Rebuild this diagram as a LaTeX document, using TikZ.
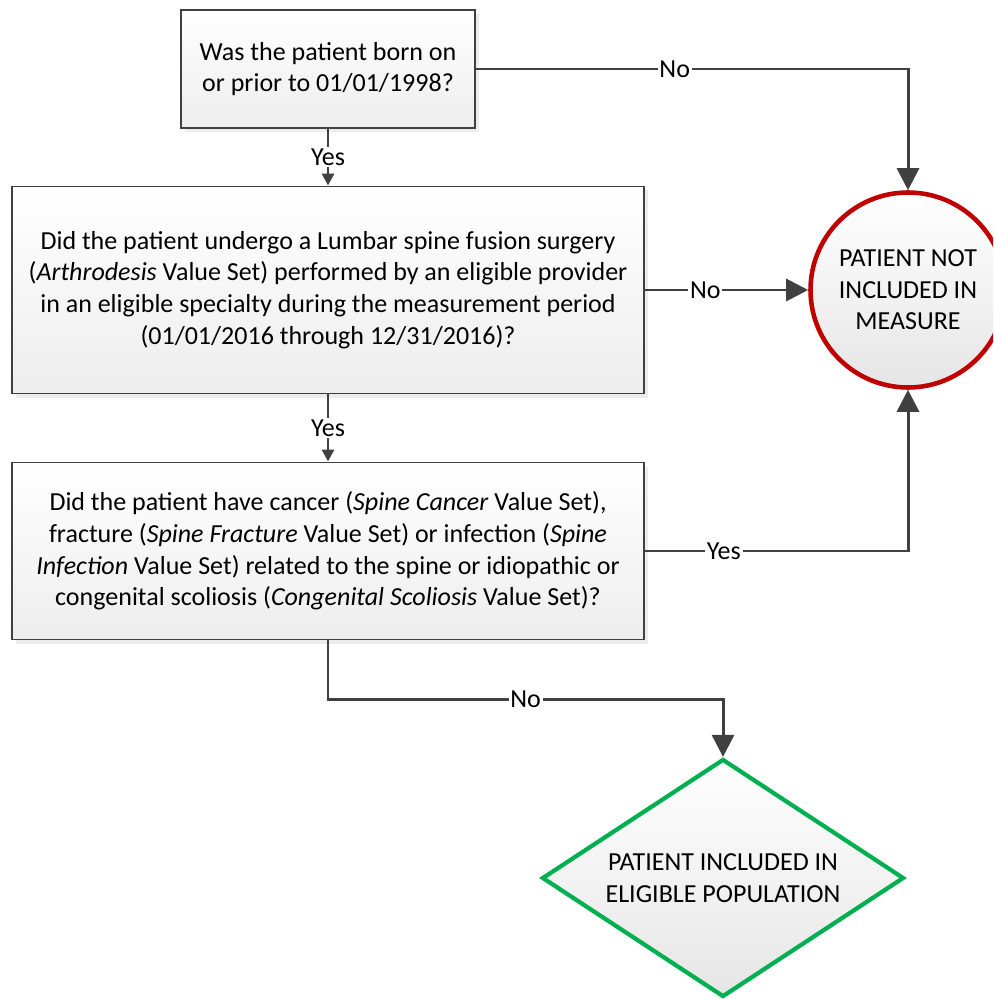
\documentclass[tikz,border=0pt]{standalone}
\usepackage{fontspec}
\setmainfont{Carlito}
\usetikzlibrary{arrows.meta,shapes.geometric,shadows}

\definecolor{linegray}{HTML}{404040}
\definecolor{outred}{HTML}{C00000}
\definecolor{ingreen}{HTML}{00B050}

\begin{document}
\begin{tikzpicture}[x=0.2mm,y=-0.2mm]
    \tikzstyle{every node} = [font=\fontsize{14.8}{18}\selectfont]
    \tikzstyle{question} = [shape=rectangle,draw=linegray,line width=1.1pt,align=center,top color=white,bottom color=black!7,drop shadow={opacity=0.15,shadow xshift=0.8mm,shadow yshift=-0.8mm}]
    \tikzstyle{outcome} = [align=center,inner sep=0pt,top color=white,bottom color=black!10]
    \tikzstyle{answer} = [fill=white,inner sep=1pt]
    \tikzstyle{flow} = [draw=linegray,line width=1.7pt]
    \tikzstyle{down} = [flow,-{Triangle[length=2.4mm,width=2.4mm]}]
    \tikzstyle{across} = [flow,-{Triangle[length=4.4mm,width=4.4mm]}]
    \useasboundingbox (0,0) rectangle (993,999);
    \clip (0,0) rectangle (993,999);
    \node [question,minimum width=58.8mm,minimum height=23.6mm] (q1) at (328,69) {Was the patient born on\\or prior to 01/01/1998?};
    \node [question,minimum width=126.4mm,minimum height=41.4mm] (q2) at (328,290) {Did the patient undergo a Lumbar spine fusion surgery\\(\textit{Arthrodesis} Value Set) performed by an eligible provider\\in an eligible specialty during the measurement period\\(01/01/2016 through 12/31/2016)?};
    \node [question,minimum width=126.4mm,minimum height=35.4mm] (q3) at (328,551) {Did the patient have cancer (\textit{Spine Cancer} Value Set),\\fracture (\textit{Spine Fracture} Value Set) or infection (\textit{Spine}\\\textit{Infection} Value Set) related to the spine or idiopathic or\\congenital scoliosis (\textit{Congenital Scoliosis} Value Set)?};
    \node [outcome,shape=circle,draw=outred,line width=2.6pt,minimum size=39mm] (out) at (908,290) {PATIENT NOT\\INCLUDED IN\\MEASURE};
    \node [outcome,shape=diamond,draw=ingreen,line width=2.4pt,aspect=1.52,minimum width=72.4mm,minimum height=47.6mm] (inc) at (723,878) {PATIENT INCLUDED IN\\ELIGIBLE POPULATION};
    \coordinate (turn) at (328,699);
    \draw [down] (q1) -- node [answer] {Yes} (q2);
    \draw [down] (q2) -- node [answer] {Yes} (q3);
    \draw [across] (q1) -| node [answer,pos=0.23] {No} (out);
    \draw [across] (q2) -- node [answer,pos=0.37] {No} (out);
    \draw [across] (q3) -| node [answer,pos=0.15] {Yes} (out);
    \draw [across] (q3) -- (turn) -| node [answer,pos=0.25] {No} (inc);
\end{tikzpicture}
\end{document}
